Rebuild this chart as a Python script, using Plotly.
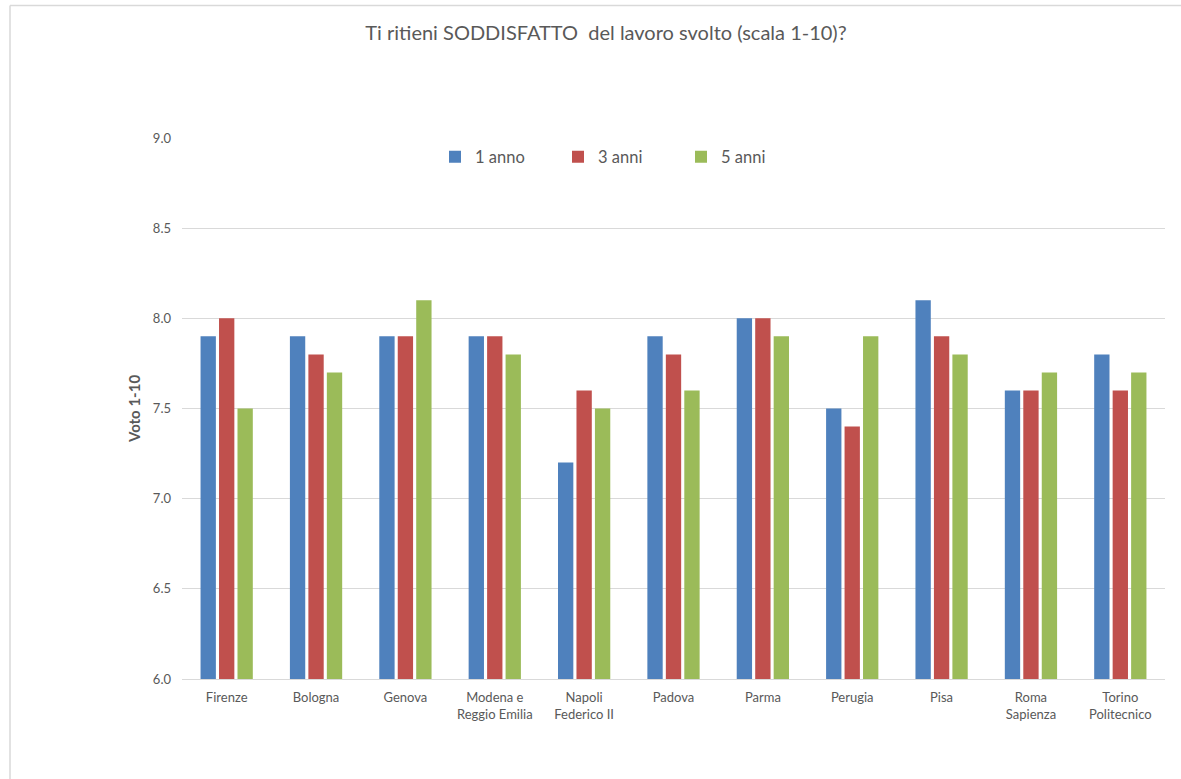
import plotly.graph_objects as go

categories = ["Firenze", "Bologna", "Genova", "Modena e<br>Reggio Emilia", "Napoli<br>Federico II",
              "Padova", "Parma", "Perugia", "Pisa", "Roma<br>Sapienza", "Torino<br>Politecnico"]
anno1 = [7.9, 7.9, 7.9, 7.9, 7.2, 7.9, 8.0, 7.5, 8.1, 7.6, 7.8]
anni3 = [8.0, 7.8, 7.9, 7.9, 7.6, 7.8, 8.0, 7.4, 7.9, 7.6, 7.6]
anni5 = [7.5, 7.7, 8.1, 7.8, 7.5, 7.6, 7.9, 7.9, 7.8, 7.7, 7.7]
series_names = ["1 anno", "3 anni", "5 anni"]
colors = ["#4F81BD", "#C0504D", "#9BBB59"]

FONT = "Lato, 'Open Sans', sans-serif"
GRAY = "#595959"

fig = go.Figure()
for name, vals, c in zip(series_names, [anno1, anni3, anni5], colors):
    fig.add_trace(go.Bar(x=categories, y=vals, name=name, marker_color=c,
                         marker_line_width=0))

W, H = 1181, 779
L, R, T, B = 182, 1181 - 1165, 138, 779 - 679
pw, ph = W - L - R, H - T - B

fig.update_layout(
    width=W, height=H,
    margin=dict(l=L, r=R, t=T, b=B),
    paper_bgcolor="white", plot_bgcolor="white",
    font=dict(family=FONT, color=GRAY, size=13),
    title=dict(text="Ti ritieni SODDISFATTO  del lavoro svolto (scala 1-10)?",
               x=606 / W, xanchor="center", y=1 - 33 / H, yanchor="middle",
               font=dict(size=20, color=GRAY, family=FONT)),
    barmode="group", bargap=0.38, bargroupgap=0.17,
    legend=dict(orientation="h", x=(435 - L) / pw, xanchor="left",
                y=(679 - 157) / ph, yanchor="middle",
                font=dict(size=16.5, color=GRAY), entrywidth=78,
                bgcolor="rgba(0,0,0,0)", itemclick=False),
    showlegend=True,
)
fig.update_yaxes(range=[6, 9], dtick=0.5, tickformat=".1f",
                 showgrid=True, gridcolor="#D9D9D9", gridwidth=1,
                 zeroline=False, showline=False, ticks="",
                 tickfont=dict(size=13, color=GRAY), ticklabelstandoff=10,
                 title=dict(text="<b>Voto 1-10</b>", font=dict(size=15, color=GRAY),
                            standoff=8))
fig.update_xaxes(showline=True, linecolor="#D9D9D9", linewidth=1, ticks="",
                 tickfont=dict(size=13, color=GRAY), showgrid=False,
                 ticklabelstandoff=6)

# outer chart frame (light grey), partly cut off at right and bottom
fig.add_shape(type="line", xref="paper", yref="paper",
              x0=(10 - L) / pw, x1=(W + 20 - L) / pw,
              y0=(679 - 5.5) / ph, y1=(679 - 5.5) / ph,
              line=dict(color="#D9D9D9", width=1.5), layer="above")
fig.add_shape(type="line", xref="paper", yref="paper",
              x0=(10 - L) / pw, x1=(10 - L) / pw,
              y0=-(B + 20) / ph, y1=(679 - 5.5) / ph,
              line=dict(color="#D9D9D9", width=1.5), layer="above")

fig.write_html("out.html", config={"displayModeBar": False},
               post_script="document.body.style.margin='0';document.body.style.overflow='hidden';")
